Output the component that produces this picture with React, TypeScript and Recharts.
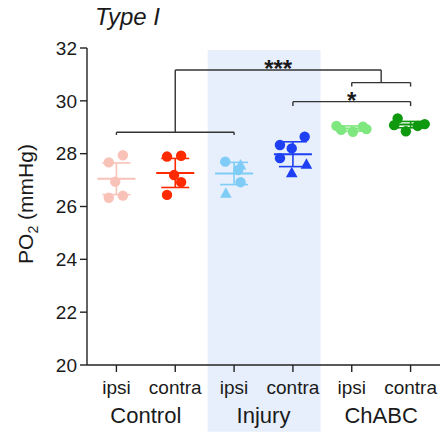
import React from "react";
import {
  ComposedChart,
  ErrorBar,
  ReferenceArea,
  ReferenceDot,
  ReferenceLine,
  Scatter,
  XAxis,
  YAxis,
} from "recharts";

// PO2 per side (ipsi / contra) for Control, Injury and ChABC, individual
// animals as dots, mean line with error bars, plus significance brackets.

const FONT = "'Liberation Sans', Arial, sans-serif";
const INK = "#1a1a1a";

const conditions = ["ipsi", "contra", "ipsi", "contra", "ipsi", "contra"];
const groupNames = ["Control", "Injury", "ChABC"];
const groupTicks = [0.5, 2.5, 4.5];
const yTicks = [20, 22, 24, 26, 28, 30, 32];
const colors = ["#f9c2b9", "#ff2a00", "#7fcdf6", "#1e3ff2", "#7fe77f", "#0f990f"];

// individual points: value, horizontal jitter (in category units), marker
const controlIpsi = [27.67, 27.94, 26.94, 26.33, 26.41];
const controlIpsiJitter = [-0.13, 0.11, -0.02, -0.13, 0.11];
const controlIpsiShape = ["c", "c", "c", "c", "c"];

const controlContra = [27.89, 27.92, 27.19, 26.92, 26.44];
const controlContraJitter = [-0.14, 0.1, -0.02, 0.1, -0.14];
const controlContraShape = ["c", "c", "c", "c", "c"];

const injuryIpsi = [27.7, 27.57, 27.38, 26.92, 26.5];
const injuryIpsiJitter = [-0.15, 0.11, 0.07, 0.11, -0.14];
const injuryIpsiShape = ["c", "t", "c", "c", "t"];

const injuryContra = [28.33, 28.64, 28.2, 27.83, 27.6, 27.28];
const injuryContraJitter = [-0.22, 0.2, -0.02, -0.22, 0.23, -0.02];
const injuryContraShape = ["c", "c", "c", "c", "t", "t"];

const chabcIpsi = [29.05, 28.9, 28.83, 29.02, 28.93];
const chabcIpsiJitter = [-0.26, -0.18, 0.02, 0.19, 0.25];
const chabcIpsiShape = ["c", "c", "c", "c", "c"];

const chabcContra = [29.33, 29.08, 28.85, 29.05, 29.12];
const chabcContraJitter = [-0.22, -0.28, -0.08, 0.12, 0.24];
const chabcContraShape = ["c", "c", "c", "c", "c"];

const means = [27.05, 27.27, 27.25, 27.98, 28.95, 29.1];
const errors = [0.6, 0.55, 0.42, 0.47, 0.1, 0.12];

// significance brackets as polylines [x, y] in data units
const brackets: [number, number][][] = [
  [[0, 28.71], [0, 28.81], [2, 28.81], [2, 28.71]],
  [[1, 28.81], [1, 31.17], [4.5, 31.17], [4.5, 30.69]],
  [[4, 30.54], [4, 30.69], [5, 30.69], [5, 30.54]],
  [[3, 29.8], [3, 29.97], [5, 29.97], [5, 29.8]],
];
const starLabels = [
  { x: 2.75, y: 31.17, text: "***" },
  { x: 4, y: 29.97, text: "*" },
];

const shading = { x1: 1.55, x2: 3.47, y1: 17.47, y2: 31.92 };

const pointSets = [
  [controlIpsi, controlIpsiJitter, controlIpsiShape],
  [controlContra, controlContraJitter, controlContraShape],
  [injuryIpsi, injuryIpsiJitter, injuryIpsiShape],
  [injuryContra, injuryContraJitter, injuryContraShape],
  [chabcIpsi, chabcIpsiJitter, chabcIpsiShape],
  [chabcContra, chabcContraJitter, chabcContraShape],
] as const;

const pointData = pointSets.map(([vals, jit, shp], i) =>
  (vals as readonly number[]).map((v, j) => ({
    x: i + (jit as readonly number[])[j],
    y: v,
    kind: (shp as readonly string[])[j],
  }))
);

const meanData = means.map((m, i) => [{ x: i, y: m, err: errors[i] }]);
// anchors so the group-name axis has something bound to it
const groupAnchors = groupTicks.map((x) => ({ x, y: 20 }));

const Marker = (color: string) => (p: any) => {
  const { cx, cy, payload } = p;
  if (payload.kind === "t") {
    return (
      <path
        d={`M${cx},${cy - 6} L${cx + 5.8},${cy + 4.5} L${cx - 5.8},${cy + 4.5} Z`}
        fill={color}
      />
    );
  }
  return <circle cx={cx} cy={cy} r={5.2} fill={color} />;
};

const MeanLine = (color: string) => (p: any) => (
  <line x1={p.cx - 19} x2={p.cx + 19} y1={p.cy} y2={p.cy} stroke={color} strokeWidth={2} />
);

const YLabel = () => (
  <text
    x={33}
    y={204}
    transform="rotate(-90 33 204)"
    textAnchor="middle"
    fill={INK}
    fontSize={21}
    fontFamily={FONT}
  >
    PO
    <tspan dy={5} fontSize={14}>
      2
    </tspan>
    <tspan dy={-5}> (mmHg)</tspan>
  </text>
);

export default function App() {
  return (
    <div style={{ position: "absolute", left: 0, top: 0, width: 440, height: 435 }}>
      <div
        style={{
          position: "absolute",
          left: 95,
          top: 5,
          fontFamily: FONT,
          fontStyle: "italic",
          fontSize: 24,
          lineHeight: 1,
          color: INK,
        }}
      >
        Type I
      </div>
      <ComposedChart width={440} height={435} margin={{ top: 48, right: 0, bottom: 0, left: 0 }}>
        <ReferenceArea
          x1={shading.x1}
          x2={shading.x2}
          y1={shading.y1}
          y2={shading.y2}
          fill="#e7effc"
          fillOpacity={1}
          stroke="none"
          ifOverflow="visible"
        />
        <XAxis
          dataKey="x"
          type="number"
          domain={[-0.5, 5.5]}
          ticks={[0, 1, 2, 3, 4, 5]}
          tickFormatter={(v: number) => conditions[v] ?? ""}
          height={30}
          tickSize={7}
          tickMargin={9}
          stroke="#222"
          strokeWidth={1.4}
          tick={{ fill: INK, fontSize: 19, fontFamily: FONT }}
          interval={0}
        />
        <XAxis
          xAxisId="group"
          dataKey="x"
          type="number"
          domain={[-0.5, 5.5]}
          ticks={groupTicks}
          tickFormatter={(v: number) => groupNames[groupTicks.indexOf(v)] ?? ""}
          height={40}
          axisLine={false}
          tickLine={false}
          tickSize={0}
          tickMargin={12}
          tick={{ fill: INK, fontSize: 22, fontFamily: FONT }}
          interval={0}
        />
        <YAxis
          type="number"
          domain={[20, 32]}
          ticks={yTicks}
          width={87}
          tickSize={7}
          tickMargin={3}
          stroke="#222"
          strokeWidth={1.4}
          tick={{ fill: INK, fontSize: 19, fontFamily: FONT }}
          label={<YLabel />}
          interval={0}
        />
        {brackets.map((b, k) =>
          b.slice(1).map((pt, j) => (
            <ReferenceLine
              key={`b${k}-${j}`}
              segment={[
                { x: b[j][0], y: b[j][1] },
                { x: pt[0], y: pt[1] },
              ]}
              stroke="#333"
              strokeWidth={1.4}
              ifOverflow="visible"
            />
          ))
        )}
        {starLabels.map((s) => (
          <ReferenceDot
            key={s.text}
            x={s.x}
            y={s.y}
            r={0}
            ifOverflow="visible"
            shape={(p: any) => (
              <text
                x={p.cx}
                y={p.cy + 7}
                textAnchor="middle"
                fontSize={24}
                fontWeight="bold"
                fontFamily={FONT}
                fill={INK}
              >
                {s.text}
              </text>
            )}
          />
        ))}
        <Scatter
          xAxisId="group"
          data={groupAnchors}
          dataKey="y"
          shape={() => <g />}
          isAnimationActive={false}
        />
        {pointData.map((d, i) => (
          <Scatter
            key={`p${i}`}
            data={d}
            dataKey="y"
            fill={colors[i]}
            shape={Marker(colors[i])}
            isAnimationActive={false}
          />
        ))}
        {meanData.map((d, i) => (
          <Scatter
            key={`m${i}`}
            data={d}
            dataKey="y"
            fill={colors[i]}
            shape={MeanLine(colors[i])}
            isAnimationActive={false}
          >
            <ErrorBar
              dataKey="err"
              direction="y"
              width={14}
              stroke={colors[i]}
              strokeWidth={1.6}
              isAnimationActive={false}
            />
          </Scatter>
        ))}
      </ComposedChart>
    </div>
  );
}
